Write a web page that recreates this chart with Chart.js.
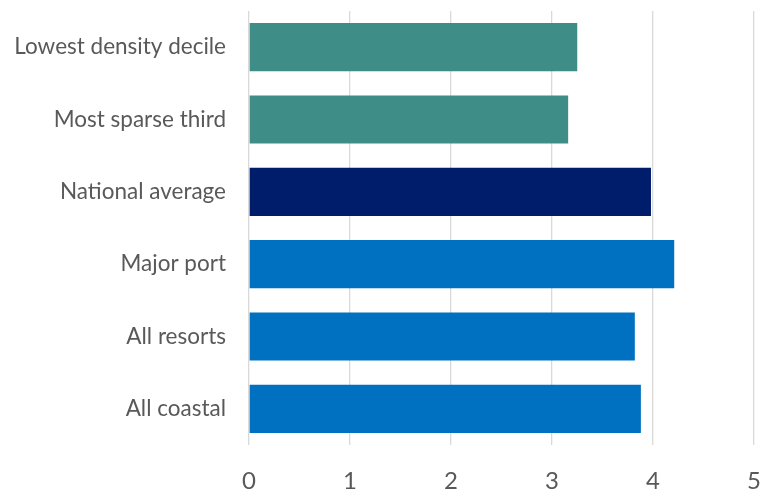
<!DOCTYPE html>
<html>
<head>
<meta charset="utf-8">
<script src="https://cdn.jsdelivr.net/npm/chart.js@4"></script>
<style>
  html, body { margin: 0; padding: 0; background: #ffffff; }
  #wrap { width: 761px; height: 491px; }
</style>
</head>
<body>
<div id="wrap"><canvas id="c" width="761" height="491"></canvas></div>
<script>
const categories = ["Lowest density decile", "Most sparse third", "National average", "Major port", "All resorts", "All coastal"];
const values = [3.25, 3.16, 3.98, 4.21, 3.82, 3.88];
const barColors = ["#3E8E87", "#3E8E87", "#001D6C", "#0070C0", "#0070C0", "#0070C0"];
const xTicks = [0, 1, 2, 3, 4, 5];

new Chart(document.getElementById('c'), {
  type: 'bar',
  data: {
    labels: categories,
    datasets: [{
      data: values,
      backgroundColor: barColors,
      borderWidth: 0,
      categoryPercentage: 1,
      barPercentage: 0.665
    }]
  },
  options: {
    indexAxis: 'y',
    responsive: false,
    animation: false,
    devicePixelRatio: 1,
    layout: { padding: { top: 11, right: 7, left: 0, bottom: 0 } },
    plugins: { legend: { display: false }, tooltip: { enabled: false } },
    scales: {
      x: {
        min: 0, max: 5,
        afterBuildTicks: (axis) => { axis.ticks = xTicks.map(v => ({ value: v })); },
        afterFit: (axis) => {
          axis.height = 46;
          axis.paddingLeft = 0; axis.paddingRight = 0; axis.paddingTop = 0; axis.paddingBottom = 0;
        },
        grid: { color: '#D9D9D9', lineWidth: 1.3, drawTicks: false },
        border: { display: false },
        ticks: { color: '#595959', font: { family: 'Lato', size: 24 }, padding: 22 }
      },
      y: {
        afterFit: (axis) => {
          axis.width = 249;
          axis.paddingLeft = 0; axis.paddingRight = 0; axis.paddingTop = 0; axis.paddingBottom = 0;
        },
        grid: { display: false, drawTicks: false },
        border: { display: false },
        ticks: { color: '#595959', font: { family: 'Lato', size: 22.5 }, padding: 23 }
      }
    }
  }
});
</script>
</body>
</html>
